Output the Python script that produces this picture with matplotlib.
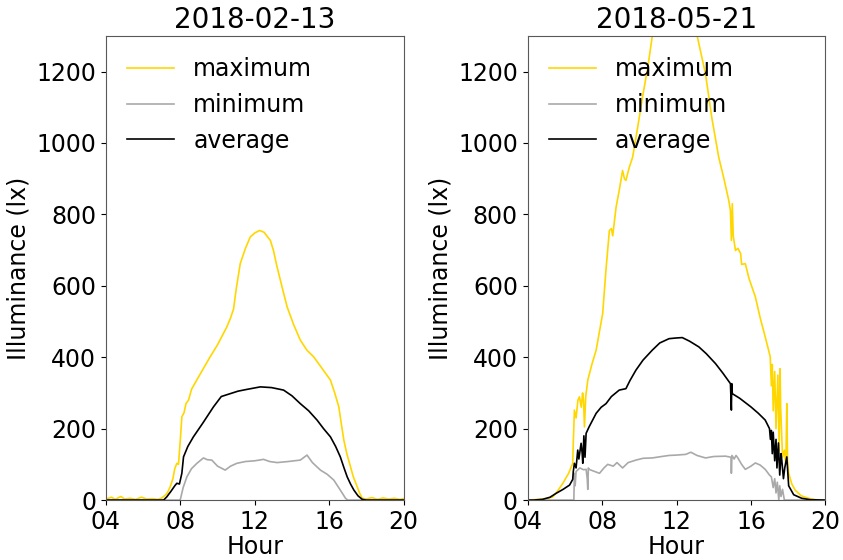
import matplotlib.pyplot as plt

# illuminance readings (hour of day, lux) for two days
feb_max_t = [4.0, 4.3, 4.5, 4.8, 5.0, 5.3, 5.6, 5.9, 6.2, 6.5, 6.8, 7.0, 7.15, 7.3, 7.45, 7.6, 7.7, 7.81,
             7.9, 8.0, 8.08, 8.2, 8.3, 8.44, 8.6, 8.88, 9.2, 9.6, 10.0, 10.3, 10.5, 10.7, 10.86, 11.0,
             11.22, 11.5, 11.76, 12.0, 12.26, 12.5, 12.84, 13.0, 13.2, 13.5, 13.74, 14.1, 14.45, 14.8,
             15.17, 15.6, 16.07, 16.3, 16.52, 16.65, 16.79, 16.95, 17.15, 17.3, 17.51, 17.65, 17.78,
             18.0, 18.3, 18.6, 18.9, 19.2, 19.5, 19.8, 20.0]
feb_max_v = [3, 8, 2, 10, 3, 5, 2, 8, 3, 4, 2, 6, 12, 20, 37, 60, 88, 103,
             100, 170, 233, 245, 270, 280, 310, 336, 365, 401, 435, 465, 485, 510, 535, 590,
             662, 705, 737, 748, 755, 750, 727, 700, 653, 590, 541, 490, 448, 420,
             401, 370, 336, 300, 261, 215, 168, 130, 93, 65, 37, 18, 5,
             3, 7, 2, 6, 3, 5, 2, 4]

feb_min_t = [4.0, 7.99, 8.15, 8.35, 8.6, 8.89, 9.24, 9.45, 9.69, 10.0, 10.41, 10.7, 11.04, 11.5, 12.0,
             12.47, 12.8, 13.2, 13.8, 14.45, 14.81, 15.1, 15.53, 15.9, 16.25, 16.6, 16.88, 17.0, 20.0]
feb_min_v = [0, 0, 35, 65, 88, 103, 118, 113, 112, 95, 84, 95, 103, 108, 110,
             114, 108, 105, 108, 112, 126, 105, 84, 72, 56, 28, 5, 0, 0]

feb_avg_t = [4.0, 7.1, 7.27, 7.5, 7.7, 7.81, 7.95, 8.08, 8.17, 8.4, 8.7, 9.2, 9.78, 10.2, 10.68, 11.1,
             11.58, 12.3, 12.9, 13.55, 14.0, 14.45, 14.9, 15.35, 15.7, 16.07, 16.35, 16.6, 16.8, 16.97,
             17.15, 17.33, 17.55, 17.78, 18.0, 20.0]
feb_avg_v = [0, 0, 9, 25, 40, 47, 45, 75, 121, 150, 177, 215, 261, 290, 298, 305,
             310, 317, 315, 308, 292, 270, 250, 224, 200, 177, 150, 121, 90, 65,
             45, 28, 12, 2, 0, 0]

may_max_t = [4.0, 4.3, 4.8, 5.1, 5.35, 5.6, 5.89, 6.2, 6.42, 6.45, 6.51, 6.6, 6.7, 6.78, 6.88, 6.95,
             7.0, 7.05, 7.12, 7.23, 7.45, 7.68, 7.85, 8.03, 8.2, 8.39, 8.5, 8.57, 8.75, 8.92, 9.1, 9.2,
             9.28, 9.45, 9.64, 9.9, 10.17, 10.45, 10.7, 11.2, 11.7, 12.1, 12.5, 12.9, 13.11, 13.56,
             13.9, 14.27, 14.55, 14.81, 14.9, 14.95, 15.0, 15.05, 15.17, 15.3, 15.45, 15.5, 15.7,
             15.9, 16.24, 16.5, 16.77, 16.95, 17.04, 17.1, 17.15, 17.2, 17.28, 17.35, 17.45, 17.52,
             17.57, 17.6, 17.7, 17.8, 17.88, 17.93, 17.97, 18.03, 18.2, 18.38, 18.7, 19.1, 19.5, 20.0]
may_max_v = [0, 1, 3, 5, 9, 25, 47, 75, 103, 160, 252, 230, 280, 289, 260, 300,
             280, 205, 290, 336, 380, 420, 470, 522, 640, 755, 760, 740, 820, 867, 923, 900,
             895, 930, 960, 1040, 1128, 1210, 1300, 1420, 1490, 1510, 1480, 1380, 1300, 1193,
             1070, 960, 900, 839, 810, 727, 830, 740, 699, 705, 690, 660, 662,
             620, 569, 510, 457, 420, 401, 320, 380, 250, 360, 200, 350, 140,
             368, 260, 120, 140, 100, 270, 110, 75, 45, 28, 12, 5, 1, 0]

may_min_t = [4.0, 6.48, 6.51, 6.55, 6.6, 6.8, 7.0, 7.14, 7.2, 7.23, 7.26, 7.3, 7.6, 7.86, 8.1, 8.3,
             8.6, 8.8, 9.1, 9.4, 9.82, 10.2, 10.7, 11.2, 11.6, 12.0, 12.5, 12.77, 13.1, 13.56, 14.0,
             14.63, 14.93, 14.95, 14.98, 15.1, 15.2, 15.3, 15.5, 15.7, 16.0, 16.24, 16.5, 16.77,
             17.0, 17.1, 17.2, 17.28, 17.35, 17.42, 17.5, 17.55, 17.62, 17.7, 17.8, 20.0]
may_min_v = [0, 0, 75, 40, 80, 90, 85, 86, 60, 30, 90, 86, 80, 75, 90, 100,
             95, 105, 90, 105, 112, 117, 118, 122, 125, 126, 128, 134, 125, 118, 122,
             123, 120, 75, 125, 115, 125, 118, 100, 86, 95, 104, 98, 86,
             70, 65, 35, 60, 20, 50, 0, 40, 10, 30, 0, 0]

may_avg_t = [4.0, 4.3, 4.8, 5.2, 5.53, 5.9, 6.25, 6.42, 6.45, 6.51, 6.6, 6.69, 6.75, 6.87, 6.93, 6.96,
             7.02, 7.08, 7.14, 7.3, 7.5, 7.68, 7.95, 8.21, 8.5, 8.92, 9.28, 9.5, 9.82, 10.2, 10.7,
             11.1, 11.6, 12.0, 12.31, 12.7, 13.2, 13.6, 14.1, 14.5, 14.9, 14.95, 14.97, 15.0, 15.4,
             16.0, 16.4, 16.77, 17.0, 17.05, 17.1, 17.15, 17.2, 17.28, 17.35, 17.4, 17.48, 17.55,
             17.62, 17.66, 17.75, 17.82, 17.93, 18.03, 18.3, 18.73, 19.2, 20.0]
may_avg_v = [0, 0, 2, 8, 19, 30, 42, 58, 80, 103, 90, 140, 115, 159, 130, 103,
             180, 120, 187, 205, 225, 243, 260, 270, 290, 308, 312, 335, 364, 392, 420,
             440, 452, 454, 455, 445, 429, 410, 382, 355, 326, 252, 326, 298, 285,
             261, 243, 224, 200, 170, 195, 130, 190, 110, 170, 90, 160, 70,
             130, 112, 60, 90, 121, 40, 15, 5, 1, 0]

days = [
    ('2018-02-13', feb_max_t, feb_max_v, feb_min_t, feb_min_v, feb_avg_t, feb_avg_v),
    ('2018-05-21', may_max_t, may_max_v, may_min_t, may_min_v, may_avg_t, may_avg_v),
]
hour_ticks = [4, 8, 12, 16, 20]
hour_labels = ['04', '08', '12', '16', '20']

plt.rcParams['font.size'] = 17
fig = plt.figure(figsize=(8.43, 5.6), dpi=100)
lefts = [0.1257, 0.626]

for left, (title, mx_t, mx_v, mn_t, mn_v, av_t, av_v) in zip(lefts, days):
    ax = fig.add_axes([left, 0.107, 0.353, 0.829])
    ax.plot(mx_t, mx_v, color='gold', lw=1.2, label='maximum')
    ax.plot(mn_t, mn_v, color='darkgray', lw=1.2, label='minimum')
    ax.plot(av_t, av_v, color='black', lw=1.2, label='average')
    ax.set_xlim(4, 20)
    ax.set_ylim(0, 1300)
    ax.set_xticks(hour_ticks)
    ax.set_xticklabels(hour_labels)
    ax.set_xlabel('Hour', labelpad=1)
    ax.set_ylabel('Illuminance (lx)')
    ax.set_title(title, fontsize=20)
    for s in ax.spines.values():
        s.set_edgecolor('0.35')
    ax.legend(loc='upper left', frameon=False)

plt.savefig('out.png')
